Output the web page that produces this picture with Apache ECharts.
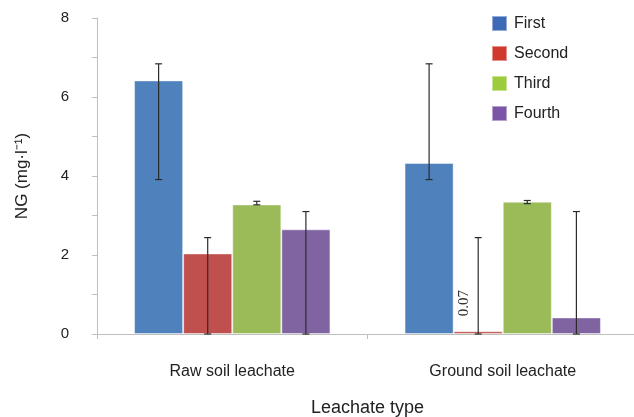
<!DOCTYPE html>
<html>
<head>
<meta charset="utf-8">
<script src="https://cdn.jsdelivr.net/npm/echarts@6/dist/echarts.min.js"></script>
<style>html,body{margin:0;padding:0;background:#fff;}#c{width:634px;height:417px;}</style>
</head>
<body>
<div id="c"></div>
<script>
var categories = ['Raw soil leachate', 'Ground soil leachate'];
var seriesNames = ['First', 'Second', 'Third', 'Fourth'];
var firstVals = [6.42, 4.33];
var secondVals = [2.04, 0.07];
var thirdVals = [3.28, 3.35];
var fourthVals = [2.65, 0.42];
var firstErrLow = [3.91, 3.91], firstErrHigh = [6.84, 6.84];
var secondErrLow = [0, 0], secondErrHigh = [2.44, 2.44];
var thirdErrLow = [3.27, 3.30], thirdErrHigh = [3.36, 3.38];
var fourthErrLow = [0, 0], fourthErrHigh = [3.10, 3.10];
var yTicks = [0, 2, 4, 6, 8];

var barColors = ['#4F81BD', '#C0504D', '#9BBB59', '#8064A2'];
var legendColors = ['#3D6AB7', '#CF3A2C', '#9CCB3C', '#7C56A6'];
var vals = [firstVals, secondVals, thirdVals, fourthVals];
var lows = [firstErrLow, secondErrLow, thirdErrLow, fourthErrLow];
var highs = [firstErrHigh, secondErrHigh, thirdErrHigh, fourthErrHigh];
var catGap = 0.274;

var series = [];
seriesNames.forEach(function (n, i) {
  var data = vals[i].map(function (v, j) {
    var d = { value: v };
    if (i === 1 && j === 1) {
      d.label = {
        show: true, position: 'top', rotate: 90, distance: 15,
        align: 'left', verticalAlign: 'middle', offset: [0, -14],
        formatter: '0.07', fontFamily: 'Liberation Serif', fontSize: 15, color: '#333'
      };
    }
    return d;
  });
  series.push({
    name: n, type: 'bar', data: data,
    barGap: '0%', barCategoryGap: (catGap * 100) + '%',
    itemStyle: { color: barColors[i], borderColor: 'rgba(255,255,255,0.45)', borderWidth: 1 },
    z: 2
  });
});
seriesNames.forEach(function (n, i) {
  series.push({
    type: 'custom', name: n + ' err',
    data: categories.map(function (c, j) { return [j, lows[i][j], highs[i][j]]; }),
    z: 5,
    renderItem: function (params, api) {
      var cat = api.value(0);
      var p0 = api.coord([cat, api.value(1)]);
      var p1 = api.coord([cat, api.value(2)]);
      var bw = api.size([1, 0])[0] * (1 - catGap) / 4;
      var x = p0[0] + (i - 1.5) * bw;
      var cap = 3.5;
      var st = { stroke: '#2b2b2b', lineWidth: 1.2 };
      return {
        type: 'group',
        children: [
          { type: 'line', shape: { x1: x, y1: p0[1], x2: x, y2: p1[1] }, style: st },
          { type: 'line', shape: { x1: x - cap, y1: p1[1], x2: x + cap, y2: p1[1] }, style: st },
          { type: 'line', shape: { x1: x - cap, y1: p0[1], x2: x + cap, y2: p0[1] }, style: st }
        ]
      };
    }
  });
});

var chart = echarts.init(document.getElementById('c'));
chart.setOption({
  animation: false,
  backgroundColor: '#fff',
  textStyle: { fontFamily: 'Liberation Sans' },
  grid: { left: 97, top: 18, width: 541, height: 316, containLabel: false, outerBoundsMode: 'none' },
  legend: {
    orient: 'vertical', left: 486, top: 10,
    itemWidth: 15, itemHeight: 15, itemGap: 13, icon: 'rect',
    textStyle: { fontSize: 16, color: '#222', fontFamily: 'Liberation Sans', padding: [0, 0, 0, 2] },
    data: seriesNames.map(function (n, i) { return { name: n, itemStyle: { color: legendColors[i] } }; })
  },
  xAxis: {
    type: 'category', data: categories,
    name: 'Leachate type', nameLocation: 'middle', nameGap: 65,
    nameTextStyle: { fontSize: 18, color: '#222' },
    axisLine: { lineStyle: { color: '#BFBFBF' } },
    axisTick: { show: true, length: 5, lineStyle: { color: '#BFBFBF' } },
    axisLabel: { fontSize: 16, color: '#222', margin: 30 }
  },
  yAxis: {
    type: 'value', min: 0, max: 8, interval: 1,
    name: 'NG (mg·l⁻¹)', nameLocation: 'middle', nameGap: 66,
    nameTextStyle: { fontSize: 17, color: '#222' },
    axisLine: { show: true, lineStyle: { color: '#BFBFBF' } },
    axisTick: { show: true, length: 5, lineStyle: { color: '#BFBFBF' } },
    splitLine: { show: false },
    axisLabel: {
      fontSize: 15, color: '#222', margin: 28,
      formatter: function (v) { return yTicks.indexOf(v) >= 0 ? String(v) : ''; }
    }
  },
  series: series
});
</script>
</body>
</html>
